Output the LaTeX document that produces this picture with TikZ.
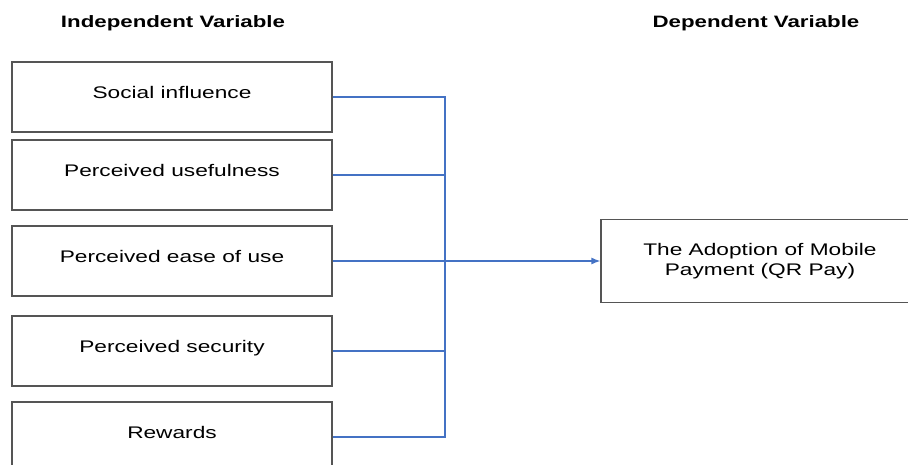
\documentclass[tikz,border=0pt]{standalone}
\usepackage{fontspec}
\usetikzlibrary{arrows.meta}
\setmainfont{Liberation Sans}[FakeStretch=1.35]
\definecolor{linkblue}{RGB}{68,114,196}
\definecolor{boxgray}{RGB}{85,85,85}
\tikzset{
  varbox/.style={draw=boxgray, line width=1.2pt, inner sep=0pt, align=center,
    font=\fontsize{16.8}{20}\selectfont},
  factor/.style={varbox, minimum width=320pt, minimum height=70pt, text depth=9pt},
  heading/.style={font=\bfseries\fontsize{16.5}{20}\selectfont},
  link/.style={draw=linkblue, line width=1.3pt}
}
\begin{document}
\begin{tikzpicture}[x=1pt,y=-1pt]
  \useasboundingbox (0,0) rectangle (908,465);
  % headings
  \node[heading] (ivhead) at (173,23) {Independent Variable};
  \node[heading] (dvhead) at (756,23) {Dependent Variable};
  % independent variables
  \foreach \name/\y/\txt in {si/97/Social influence, pu/175/Perceived usefulness,
      pe/261/Perceived ease of use, ps/351/Perceived security, rw/437/Rewards}
    \node[factor] (\name) at (172,\y) {\txt};
  % dependent variable
  \node[varbox, minimum width=318pt, minimum height=83pt] (dv) at (760,261)
    {The Adoption of Mobile\\Payment (QR Pay)};
  % links to the bus and the arrow
  \coordinate (bus) at (445,0);
  \draw[link] (si.east) -- (si.east -| bus) -- (rw.east -| bus) -- (rw.east);
  \foreach \name in {pu,pe,ps}
    \draw[link] (\name.east) -- (\name.east -| bus);
  \draw[link,-{Latex[length=9pt,width=7pt]}] (pe.east) -- (dv.west);
\end{tikzpicture}
\end{document}
